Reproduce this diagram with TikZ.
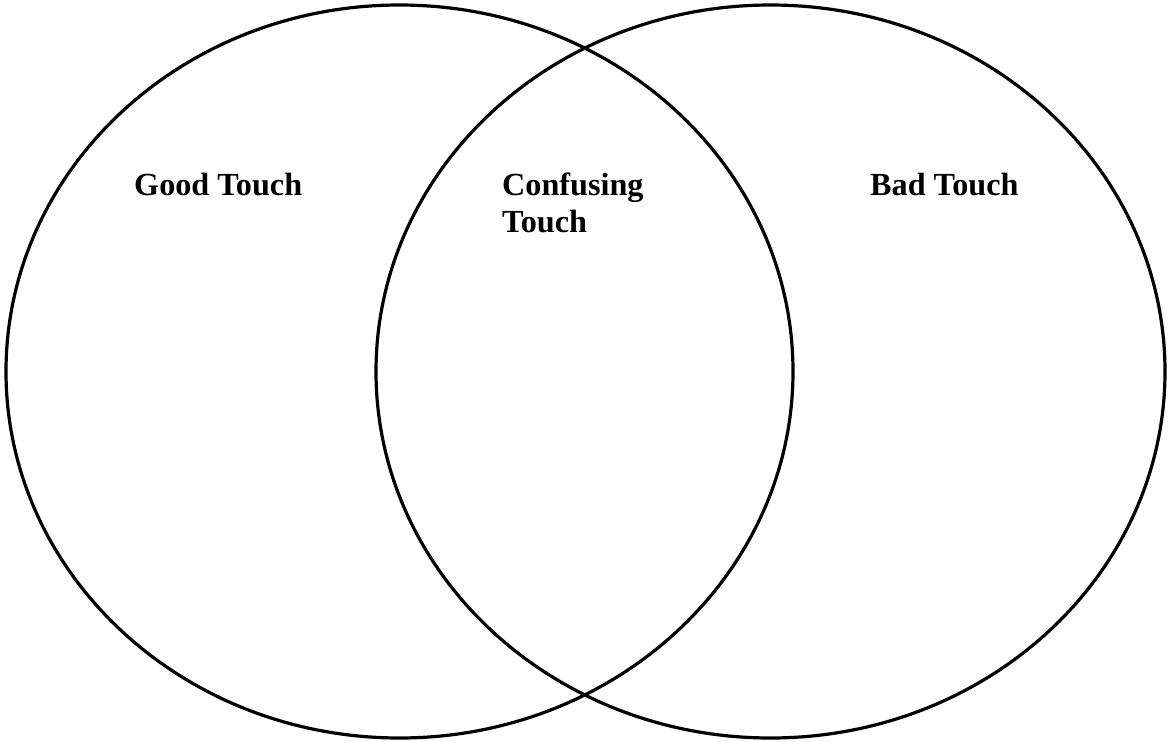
\documentclass[tikz,border=0pt]{standalone}
\usepackage{fontspec}
\setmainfont{Liberation Serif}
\begin{document}
\begin{tikzpicture}[x=1pt,y=-1pt,
  ring/.style={draw=black,line width=3.2pt},
  lbl/.style={font=\bfseries\fontsize{32.2}{38}\selectfont,anchor=base west,inner sep=0pt}]
\useasboundingbox (0,0) rectangle (1168,742);
\draw[ring] (399.5,371.5) ellipse [x radius=393.5, y radius=366.5];
\draw[ring] (770.5,371.5) ellipse [x radius=394.5, y radius=366.5];
\node[lbl] (good) at (134,195) {Good Touch};
\node[lbl] (conf1) at (502,195) {Confusing};
\node[lbl] (conf2) at (502,232) {Touch};
\node[lbl] (bad) at (870,195) {Bad Touch};
\end{tikzpicture}
\end{document}
